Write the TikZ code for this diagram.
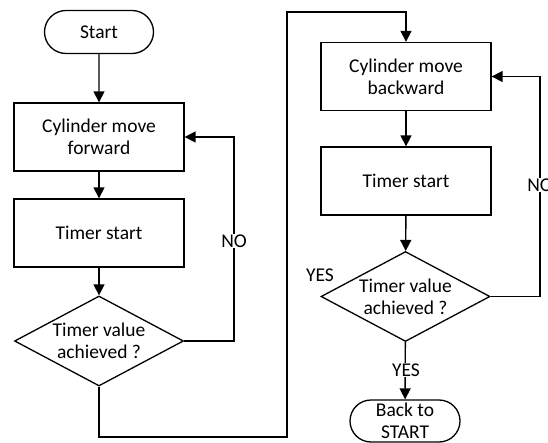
\documentclass[tikz,border=0pt]{standalone}
\usepackage{fontspec}
\setmainfont{Carlito}
\usetikzlibrary{shapes.geometric,shapes.misc,arrows.meta}
\begin{document}
\begin{tikzpicture}[x=1pt,y=-1pt,
  every node/.style={font=\fontsize{19.5}{22}\selectfont, align=center},
  flow/.style={line width=1.4pt, -{Triangle[length=11pt,width=11pt]}},
  terminal/.style={draw, line width=1.3pt, rounded rectangle, minimum width=109pt, minimum height=43pt, inner sep=0pt},
  process/.style={draw, line width=1.3pt, rectangle, minimum width=170pt, minimum height=68pt, inner sep=0pt},
  decision/.style={draw, line width=1.3pt, diamond, aspect=1.9, minimum width=169pt, minimum height=90pt, inner sep=0pt},
  lbl/.style={fill=white, inner sep=1pt}]
\useasboundingbox (0,0) rectangle (548,443);

% left column
\node[terminal] (start) at (99,32) {Start};
\node[process] (fwd) at (99,137) {Cylinder move\\forward};
\node[process] (t1) at (99,233) {Timer start};
\node[decision] (d1) at (99,341) {Timer value\\achieved ?};

% right column
\node[process] (bwd) at (406,76.5) {Cylinder move\\backward};
\node[process] (t2) at (406,181) {Timer start};
\node[decision] (d2) at (405.5,296.5) {Timer value\\achieved ?};
\node[terminal, minimum width=110pt, minimum height=42pt] (back) at (405,421) {Back to\\START};

% bends of the routed connectors
\coordinate (c1) at (287,437);
\coordinate (c2) at (287,12);
\coordinate (n1) at (234,241);
\coordinate (n2) at (540,185);
\coordinate (y2) at (406,370);

% straight flow
\draw[flow] (start) -- (fwd);
\draw[flow] (fwd) -- (t1);
\draw[flow] (t1) -- (d1);
\draw[flow] (bwd) -- (t2);
\draw[flow] (t2) -- (d2);
\draw[flow] (d2) -- (back);

% first decision: YES to the right column
\draw[flow] (d1.south) |- (c1) -- (c2) -| (bwd.north);

% retry loops
\draw[flow] (d1.east) -| (n1) |- (fwd.east);
\draw[flow] (d2.east) -| (n2) |- (bwd.east);

% labels
\node[lbl] at (n1) {NO};
\node[lbl] at (n2) {NO};
\node[lbl] at (y2) {YES};
\node at (320,275) {YES};
\end{tikzpicture}
\end{document}
